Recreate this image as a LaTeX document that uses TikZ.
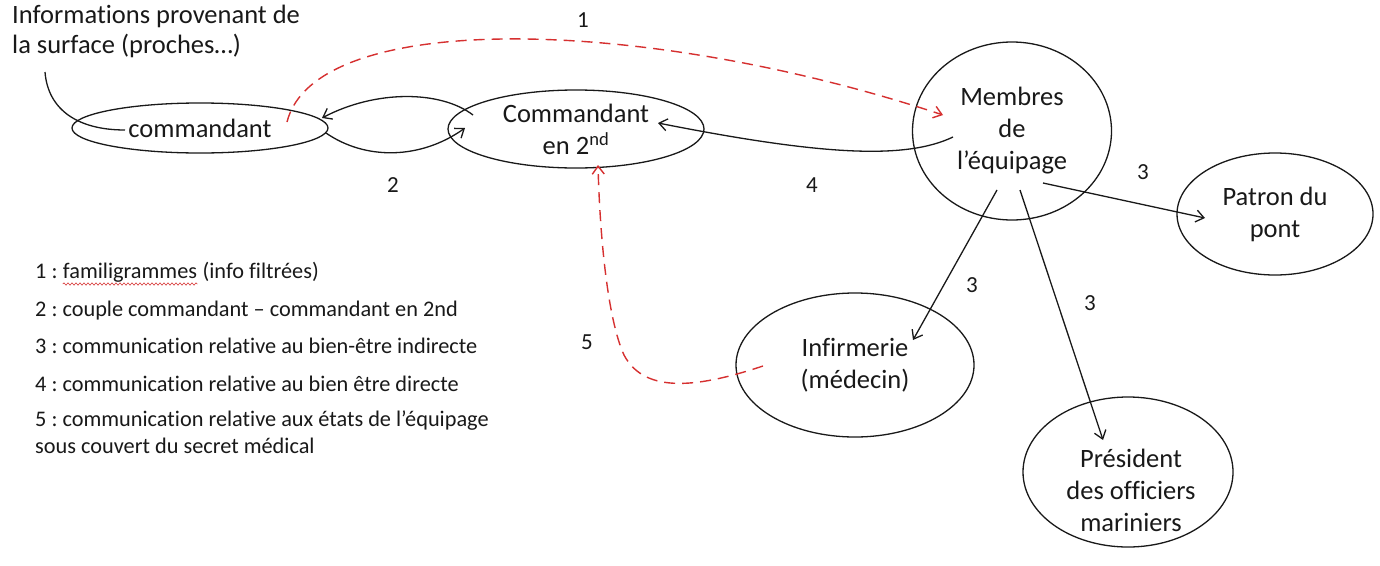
\documentclass[tikz,border=0pt]{standalone}
\usepackage{fontspec}
\setmainfont{Carlito}[Ligatures=NoCommon]
\usetikzlibrary{shapes.geometric,arrows.meta,decorations.pathmorphing}
\definecolor{redd}{RGB}{214,48,48}
\definecolor{ink}{RGB}{25,25,25}
\frenchspacing
\begin{document}
\begin{tikzpicture}[x=1pt,y=-1pt,
  every node/.style={text=ink,font=\frenchspacing\fontsize{26.5}{32}\selectfont},
  oval/.style={ellipse,draw=ink,line width=1.3pt,inner sep=0pt,align=center},
  conn/.style={draw=ink,line width=1.3pt,-{Straight Barb[length=8pt,width=12pt]}},
  rconn/.style={draw=redd,line width=1.4pt,dash pattern=on 11pt off 7pt,-{Straight Barb[length=8pt,width=12pt]}},
  lbl/.style={inner sep=0pt,font=\fontsize{23}{28}\selectfont},
  leg/.style={inner sep=0pt,font=\frenchspacing\fontsize{22.3}{27}\selectfont}]
\useasboundingbox[fill=white] (0,0) rectangle (1380,565);

% nodes
\node[anchor=north west,align=left,inner sep=0pt,font=\fontsize{26.5}{30}\selectfont] (info) at (12,5) {Informations provenant de\\la surface (proches…)};
\node[oval,minimum width=256pt,minimum height=50pt] (cmd) at (200,128) {commandant};
\node[oval,minimum width=256pt,minimum height=78pt] (cmd2) at (576,129) {Commandant\\en 2\textsuperscript{nd}};
\node[oval,minimum width=199pt,minimum height=178pt] (mem) at (1012,131) {Membres\\de\\l’équipage};
\node[oval,minimum width=196pt,minimum height=122pt] (pat) at (1275,214) {Patron du\\pont};
\node[oval,minimum width=238pt,minimum height=144pt] (inf) at (855,365) {Infirmerie\\(médecin)};
\node[oval,minimum width=210pt,minimum height=150pt] (pres) at (1128,472) {};
\node[align=center,inner sep=0pt] (prestxt) at (1131,490) {Président\\des officiers\\mariniers};

% free ends
\coordinate (infoS) at (45,72);
\coordinate (cmdT) at (125,130);
\coordinate (r1s) at (287,122);
\coordinate (r1t) at (943,115);
\coordinate (c2a) at (473,115);
\coordinate (c1a) at (322,118);
\coordinate (c1b) at (326,133);
\coordinate (c2b) at (465,128);
\coordinate (m4s) at (953,137);
\coordinate (c2c) at (658,123);
\coordinate (m3a) at (1043,183);
\coordinate (p3t) at (1205,218);
\coordinate (m3b) at (997,190);
\coordinate (i3t) at (913,340);
\coordinate (m3c) at (1020,190);
\coordinate (pr3t) at (1103,440);
\coordinate (r5s) at (763,366);
\coordinate (r5t) at (598,165);

% connectors
\draw[ink,line width=1.3pt] (infoS) .. controls (48,110) and (78,130) .. (cmdT);
\draw[rconn] (r1s) .. controls (315,10) and (640,15) .. (r1t);
\draw[conn] (c2a) .. controls (440,90) and (375,90) .. (c1a);
\draw[conn] (c1b) .. controls (365,160) and (420,160) .. (c2b);
\draw[conn] (m4s) .. controls (905,160) and (820,155) .. (c2c);
\draw[conn] (m3a) -- (p3t);
\draw[conn] (m3b) -- (i3t);
\draw[conn] (m3c) -- (pr3t);
\draw[rconn] (r5s) .. controls (700,387) and (645,395) .. (624,355) .. controls (608,320) and (600,240) .. (r5t);

% labels
\node[lbl] (l1) at (583,20) {1};
\node[lbl] (l2) at (393,185) {2};
\node[lbl] (l4) at (812,185) {4};
\node[lbl] (l3a) at (1143,172) {3};
\node[lbl] (l3b) at (972,285) {3};
\node[lbl] (l3c) at (1090,303) {3};
\node[lbl] (l5) at (587,342) {5};

% legend
\node[leg,anchor=base west] (g1a) at (35,278) {1 :\kern0.226em};
\node[leg,anchor=base west] (g1b) at (g1a.base east) {familigrammes};
\node[leg,anchor=base west] (g1c) at (g1b.base east) {\kern0.226em(info filtrées)};
\node[leg,anchor=base west] (g2) at (35,316) {2 : couple commandant – commandant en 2nd};
\node[leg,anchor=base west] (g3) at (35,353) {3 : communication relative au bien-être indirecte};
\node[leg,anchor=base west] (g4) at (35,391) {4 : communication relative au bien être directe};
\node[leg,anchor=base west] (g5) at (35,426) {5 : communication relative aux états de l’équipage};
\node[leg,anchor=base west] (g6) at (35,453) {sous couvert du secret médical};
\draw[redd,line width=0.6pt,decorate,decoration={snake,amplitude=1.1pt,segment length=4pt}] ([yshift=-6pt]g1b.base west) -- ([yshift=-6pt]g1b.base east);
\end{tikzpicture}
\end{document}
